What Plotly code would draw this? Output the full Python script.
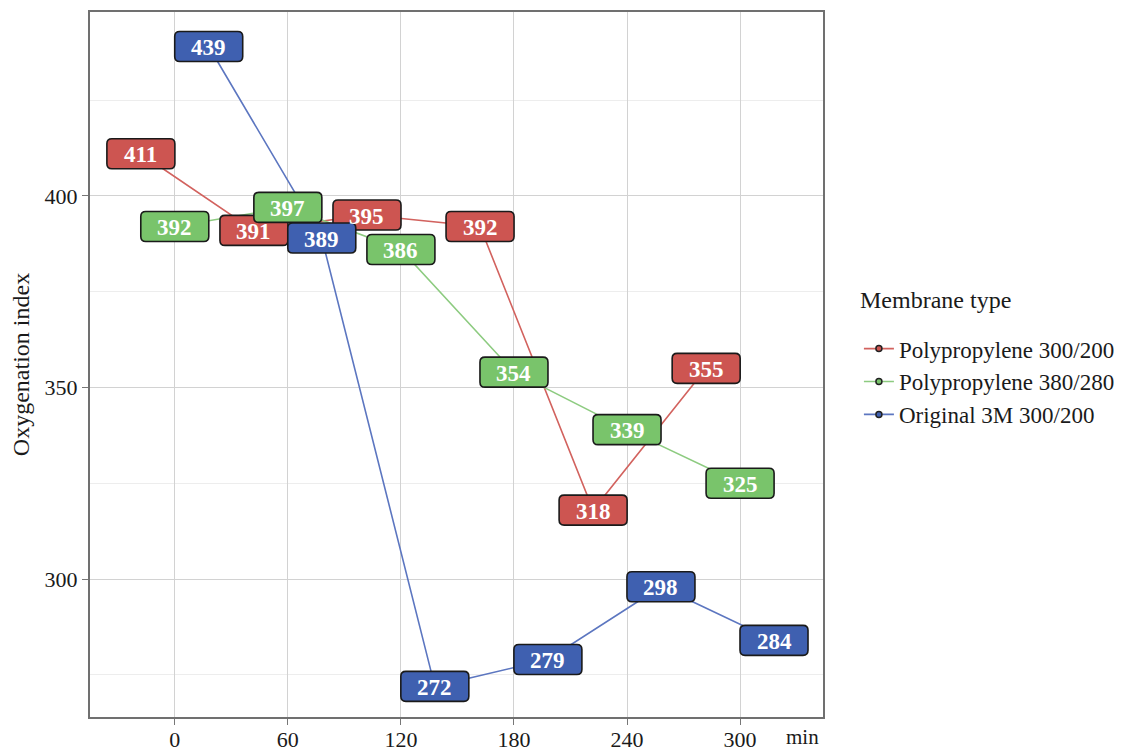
import plotly.graph_objects as go

# ---- data ----
times = [0, 60, 120, 180, 240, 300]
series_names = ["Polypropylene 300/200", "Polypropylene 380/280", "Original 3M 300/200"]
pp_300_200 = [411, 391, 395, 392, 318, 355]
pp_380_280 = [392, 397, 386, 354, 339, 325]
orig_3m = [439, 389, 272, 279, 298, 284]
y_ticks = [300, 350, 400]
x_ticks = [0, 60, 120, 180, 240, 300]

# ---- style ----
fill_colors = ["#CD5551", "#79C46B", "#3F60B0"]
line_colors = ["#D2625E", "#8DCB80", "#5C76C0"]
dodge = [-18, 0, 18]
FONT = "Liberation Serif"

fig = go.Figure()
all_series = [pp_300_200, pp_380_280, orig_3m]

for name, vals, lc, fc, dx in zip(series_names, all_series, line_colors, fill_colors, dodge):
    xs = [t + dx for t in times]
    fig.add_trace(go.Scatter(
        x=xs, y=vals, mode="lines+markers", name=name,
        line=dict(color=lc, width=1.6),
        marker=dict(size=6, color=fc, line=dict(color="#222222", width=1.5)),
    ))

# rounded label boxes (pixel sized, anchored to data)
w, h, r = 34, 15, 5
path = (f"M {-w+r},{-h} L {w-r},{-h} Q {w},{-h} {w},{-h+r} L {w},{h-r} Q {w},{h} {w-r},{h} "
        f"L {-w+r},{h} Q {-w},{h} {-w},{h-r} L {-w},{-h+r} Q {-w},{-h} {-w+r},{-h} Z")
shapes = []
annotations = []
for vals, fc, dx in zip(all_series, fill_colors, dodge):
    for t, v in zip(times, vals):
        shapes.append(dict(type="path", xref="x", yref="y", xsizemode="pixel", ysizemode="pixel",
                           xanchor=t + dx, yanchor=v, path=path, fillcolor=fc,
                           line=dict(color="#1a1a1a", width=1.6), layer="above"))
        annotations.append(dict(x=t + dx, y=v, xref="x", yref="y", text=f"<b>{v}</b>",
                                showarrow=False, font=dict(family=FONT, size=23, color="white"),
                                yshift=-1))

annotations.append(dict(x=0.9727, y=-0.029, xref="paper", yref="paper", text="min",
                        showarrow=False, xanchor="center", yanchor="middle",
                        font=dict(family=FONT, size=21, color="#1a1a1a")))
annotations.append(dict(x=1.048, y=0.591, xref="paper", yref="paper", text="Membrane type",
                        showarrow=False, xanchor="left", yanchor="middle",
                        font=dict(family=FONT, size=24, color="#1a1a1a")))

fig.update_layout(
    width=1118, height=743,
    margin=dict(l=82, r=303, t=4, b=34, autoexpand=False),
    paper_bgcolor="white", plot_bgcolor="white",
    font=dict(family=FONT, size=22, color="#1a1a1a"),
    shapes=shapes, annotations=annotations,
    legend=dict(x=1.049, xanchor="left", y=0.553, yanchor="top",
                font=dict(family=FONT, size=23), tracegroupgap=0, itemwidth=30),
    showlegend=True,
)
fig.update_xaxes(range=[-45, 344], tickvals=x_ticks, ticktext=[str(t) for t in x_ticks],
                 showgrid=True, gridcolor="#D2D2D2", gridwidth=1.2,
                 ticks="outside", ticklen=6, tickcolor="#777777", ticklabelstandoff=-4,
                 showline=True, mirror=True, linecolor="#707070", linewidth=2,
                 zeroline=False, automargin=False, tickfont=dict(family=FONT, size=22))
fig.update_yaxes(range=[264, 448], tickvals=y_ticks,
                 showgrid=True, gridcolor="#D2D2D2", gridwidth=1.2,
                 minor=dict(dtick=50, tick0=275, showgrid=True, gridcolor="#EDEDED", gridwidth=1),
                 ticks="outside", ticklen=6, tickcolor="#777777",
                 showline=True, mirror=True, linecolor="#707070", linewidth=2,
                 zeroline=False, automargin=False, tickfont=dict(family=FONT, size=22),
                 title=dict(text="Oxygenation index", font=dict(family=FONT, size=24), standoff=8))

fig.write_html("out.html")
